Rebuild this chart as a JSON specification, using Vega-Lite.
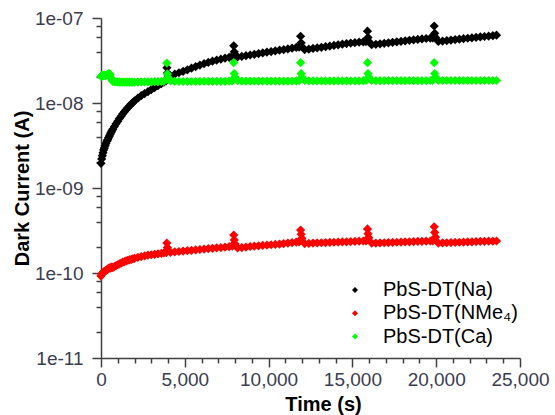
{
  "$schema": "https://vega.github.io/schema/vega-lite/v6.json",
  "width": 419,
  "height": 340,
  "autosize": {"type": "none"},
  "padding": {"left": 101, "top": 18, "right": 35, "bottom": 57},
  "background": "white",
  "view": {"stroke": null},
  "config": {"font": "Liberation Sans"},
  "data": {"values": [
    {"t":0,"na":1.95e-9,"nm":9.2e-11,"ca":2.05e-8},
    {"t":40,"na":2.2e-9,"nm":9.6e-11,"ca":2.1e-8},
    {"t":80,"na":2.4e-9,"nm":9.9e-11,"ca":2.12e-8},
    {"t":120,"na":2.6e-9,"nm":1.01e-10,"ca":2.08e-8},
    {"t":160,"na":2.8e-9,"nm":1.03e-10,"ca":2.1e-8},
    {"t":200,"na":2.95e-9,"nm":1.04e-10,"ca":2.12e-8},
    {"t":250,"na":3.15e-9,"nm":1.06e-10,"ca":2.1e-8},
    {"t":300,"na":3.35e-9,"nm":1.07e-10,"ca":2.12e-8},
    {"t":350,"na":3.55e-9,"nm":1.09e-10,"ca":2.14e-8},
    {"t":400,"na":3.7e-9,"nm":1.11e-10,"ca":2.16e-8},
    {"t":450,"na":3.9e-9,"nm":1.13e-10,"ca":2.2e-8},
    {"t":500,"na":4.1e-9,"nm":1.15e-10,"ca":2.22e-8},
    {"t":550,"na":4.3e-9,"nm":1.14e-10,"ca":2.15e-8},
    {"t":600,"na":4.5e-9,"nm":1.16e-10,"ca":1.98e-8},
    {"t":650,"na":4.7e-9,"nm":1.18e-10,"ca":1.86e-8},
    {"t":700,"na":4.9e-9,"nm":1.16e-10,"ca":1.8e-8},
    {"t":800,"na":5.3e-9,"nm":1.19e-10,"ca":1.78e-8},
    {"t":900,"na":5.7e-9,"nm":1.22e-10,"ca":1.77e-8},
    {"t":1000,"na":6.1e-9,"nm":1.25e-10,"ca":1.77e-8},
    {"t":1100,"na":6.55e-9,"nm":1.28e-10,"ca":1.76e-8},
    {"t":1200,"na":7.0e-9,"nm":1.31e-10,"ca":1.76e-8},
    {"t":1300,"na":7.45e-9,"nm":1.34e-10,"ca":1.76e-8},
    {"t":1400,"na":7.9e-9,"nm":1.36e-10,"ca":1.76e-8},
    {"t":1500,"na":8.35e-9,"nm":1.39e-10,"ca":1.76e-8},
    {"t":1600,"na":8.8e-9,"nm":1.41e-10,"ca":1.76e-8},
    {"t":1700,"na":9.25e-9,"nm":1.43e-10,"ca":1.76e-8},
    {"t":1800,"na":9.7e-9,"nm":1.45e-10,"ca":1.76e-8},
    {"t":1900,"na":1.01e-8,"nm":1.47e-10,"ca":1.76e-8},
    {"t":2000,"na":1.06e-8,"nm":1.49e-10,"ca":1.76e-8},
    {"t":2200,"na":1.14e-8,"nm":1.53e-10,"ca":1.76e-8},
    {"t":2400,"na":1.22e-8,"nm":1.56e-10,"ca":1.77e-8},
    {"t":2600,"na":1.29e-8,"nm":1.59e-10,"ca":1.77e-8},
    {"t":2800,"na":1.36e-8,"nm":1.62e-10,"ca":1.77e-8},
    {"t":3000,"na":1.44e-8,"nm":1.64e-10,"ca":1.77e-8},
    {"t":3200,"na":1.52e-8,"nm":1.66e-10,"ca":1.78e-8},
    {"t":3400,"na":1.6e-8,"nm":1.68e-10,"ca":1.78e-8},
    {"t":3600,"na":1.69e-8,"nm":1.7e-10,"ca":1.79e-8},
    {"t":3750,"na":1.76e-8,"nm":1.72e-10,"ca":1.8e-8},
    {"t":3890,"na":1.83e-8,"nm":1.74e-10,"ca":1.88e-8},
    {"t":3930,"na":2.6e-8,"nm":2.25e-10,"ca":2.95e-8},
    {"t":3960,"na":2.25e-8,"nm":2.0e-10,"ca":2.2e-8},
    {"t":4010,"na":2.08e-8,"nm":1.85e-10,"ca":2.0e-8},
    {"t":4150,"na":2.08e-8,"nm":1.75e-10,"ca":1.82e-8},
    {"t":4400,"na":2.18e-8,"nm":1.77e-10,"ca":1.8e-8},
    {"t":4650,"na":2.27e-8,"nm":1.79e-10,"ca":1.79e-8},
    {"t":4900,"na":2.36e-8,"nm":1.81e-10,"ca":1.79e-8},
    {"t":5150,"na":2.46e-8,"nm":1.83e-10,"ca":1.79e-8},
    {"t":5400,"na":2.57e-8,"nm":1.85e-10,"ca":1.79e-8},
    {"t":5650,"na":2.68e-8,"nm":1.87e-10,"ca":1.79e-8},
    {"t":5900,"na":2.79e-8,"nm":1.89e-10,"ca":1.8e-8},
    {"t":6150,"na":2.9e-8,"nm":1.91e-10,"ca":1.8e-8},
    {"t":6400,"na":3.0e-8,"nm":1.93e-10,"ca":1.8e-8},
    {"t":6650,"na":3.1e-8,"nm":1.95e-10,"ca":1.8e-8},
    {"t":6900,"na":3.19e-8,"nm":1.97e-10,"ca":1.8e-8},
    {"t":7150,"na":3.28e-8,"nm":1.99e-10,"ca":1.8e-8},
    {"t":7400,"na":3.37e-8,"nm":2.01e-10,"ca":1.8e-8},
    {"t":7650,"na":3.45e-8,"nm":2.04e-10,"ca":1.81e-8},
    {"t":7830,"na":3.52e-8,"nm":2.07e-10,"ca":1.82e-8},
    {"t":7880,"na":3.62e-8,"nm":2.15e-10,"ca":1.9e-8},
    {"t":7920,"na":4.7e-8,"nm":2.8e-10,"ca":2.98e-8},
    {"t":7950,"na":4.0e-8,"nm":2.45e-10,"ca":2.22e-8},
    {"t":8000,"na":3.65e-8,"nm":2.2e-10,"ca":2.02e-8},
    {"t":8150,"na":3.48e-8,"nm":1.97e-10,"ca":1.83e-8},
    {"t":8400,"na":3.53e-8,"nm":1.99e-10,"ca":1.81e-8},
    {"t":8650,"na":3.6e-8,"nm":2.02e-10,"ca":1.81e-8},
    {"t":8900,"na":3.67e-8,"nm":2.05e-10,"ca":1.81e-8},
    {"t":9150,"na":3.74e-8,"nm":2.07e-10,"ca":1.81e-8},
    {"t":9400,"na":3.81e-8,"nm":2.09e-10,"ca":1.81e-8},
    {"t":9650,"na":3.88e-8,"nm":2.11e-10,"ca":1.81e-8},
    {"t":9900,"na":3.96e-8,"nm":2.13e-10,"ca":1.81e-8},
    {"t":10150,"na":4.03e-8,"nm":2.15e-10,"ca":1.81e-8},
    {"t":10400,"na":4.1e-8,"nm":2.17e-10,"ca":1.81e-8},
    {"t":10650,"na":4.18e-8,"nm":2.19e-10,"ca":1.81e-8},
    {"t":10900,"na":4.25e-8,"nm":2.22e-10,"ca":1.81e-8},
    {"t":11150,"na":4.33e-8,"nm":2.25e-10,"ca":1.81e-8},
    {"t":11400,"na":4.42e-8,"nm":2.28e-10,"ca":1.81e-8},
    {"t":11650,"na":4.5e-8,"nm":2.31e-10,"ca":1.82e-8},
    {"t":11820,"na":4.55e-8,"nm":2.33e-10,"ca":1.83e-8},
    {"t":11870,"na":4.7e-8,"nm":2.42e-10,"ca":1.9e-8},
    {"t":11910,"na":6.1e-8,"nm":3.2e-10,"ca":2.98e-8},
    {"t":11940,"na":5.1e-8,"nm":2.85e-10,"ca":2.22e-8},
    {"t":11990,"na":4.6e-8,"nm":2.55e-10,"ca":2.02e-8},
    {"t":12150,"na":4.25e-8,"nm":2.22e-10,"ca":1.84e-8},
    {"t":12400,"na":4.3e-8,"nm":2.23e-10,"ca":1.82e-8},
    {"t":12650,"na":4.38e-8,"nm":2.25e-10,"ca":1.82e-8},
    {"t":12900,"na":4.45e-8,"nm":2.26e-10,"ca":1.82e-8},
    {"t":13150,"na":4.52e-8,"nm":2.27e-10,"ca":1.82e-8},
    {"t":13400,"na":4.6e-8,"nm":2.28e-10,"ca":1.82e-8},
    {"t":13650,"na":4.68e-8,"nm":2.29e-10,"ca":1.82e-8},
    {"t":13900,"na":4.76e-8,"nm":2.3e-10,"ca":1.82e-8},
    {"t":14150,"na":4.84e-8,"nm":2.31e-10,"ca":1.82e-8},
    {"t":14400,"na":4.92e-8,"nm":2.32e-10,"ca":1.82e-8},
    {"t":14650,"na":5.0e-8,"nm":2.33e-10,"ca":1.82e-8},
    {"t":14900,"na":5.07e-8,"nm":2.34e-10,"ca":1.82e-8},
    {"t":15150,"na":5.13e-8,"nm":2.35e-10,"ca":1.82e-8},
    {"t":15400,"na":5.19e-8,"nm":2.37e-10,"ca":1.82e-8},
    {"t":15650,"na":5.24e-8,"nm":2.38e-10,"ca":1.83e-8},
    {"t":15810,"na":5.28e-8,"nm":2.39e-10,"ca":1.84e-8},
    {"t":15860,"na":5.45e-8,"nm":2.48e-10,"ca":1.9e-8},
    {"t":15900,"na":7.0e-8,"nm":3.3e-10,"ca":2.98e-8},
    {"t":15930,"na":5.9e-8,"nm":2.9e-10,"ca":2.22e-8},
    {"t":15980,"na":5.3e-8,"nm":2.6e-10,"ca":2.02e-8},
    {"t":16150,"na":4.85e-8,"nm":2.25e-10,"ca":1.84e-8},
    {"t":16400,"na":4.9e-8,"nm":2.25e-10,"ca":1.83e-8},
    {"t":16650,"na":4.97e-8,"nm":2.26e-10,"ca":1.83e-8},
    {"t":16900,"na":5.04e-8,"nm":2.27e-10,"ca":1.83e-8},
    {"t":17150,"na":5.11e-8,"nm":2.28e-10,"ca":1.83e-8},
    {"t":17400,"na":5.18e-8,"nm":2.29e-10,"ca":1.83e-8},
    {"t":17650,"na":5.25e-8,"nm":2.3e-10,"ca":1.83e-8},
    {"t":17900,"na":5.32e-8,"nm":2.31e-10,"ca":1.83e-8},
    {"t":18150,"na":5.39e-8,"nm":2.32e-10,"ca":1.83e-8},
    {"t":18400,"na":5.46e-8,"nm":2.33e-10,"ca":1.83e-8},
    {"t":18650,"na":5.53e-8,"nm":2.34e-10,"ca":1.83e-8},
    {"t":18900,"na":5.6e-8,"nm":2.35e-10,"ca":1.83e-8},
    {"t":19150,"na":5.67e-8,"nm":2.36e-10,"ca":1.83e-8},
    {"t":19400,"na":5.74e-8,"nm":2.37e-10,"ca":1.83e-8},
    {"t":19650,"na":5.8e-8,"nm":2.38e-10,"ca":1.84e-8},
    {"t":19790,"na":5.84e-8,"nm":2.39e-10,"ca":1.85e-8},
    {"t":19840,"na":6.0e-8,"nm":2.48e-10,"ca":1.9e-8},
    {"t":19880,"na":8.05e-8,"nm":3.5e-10,"ca":2.98e-8},
    {"t":19910,"na":6.6e-8,"nm":3.0e-10,"ca":2.22e-8},
    {"t":19960,"na":5.9e-8,"nm":2.65e-10,"ca":2.02e-8},
    {"t":20130,"na":5.3e-8,"nm":2.25e-10,"ca":1.85e-8},
    {"t":20380,"na":5.35e-8,"nm":2.26e-10,"ca":1.84e-8},
    {"t":20630,"na":5.42e-8,"nm":2.27e-10,"ca":1.84e-8},
    {"t":20880,"na":5.5e-8,"nm":2.28e-10,"ca":1.84e-8},
    {"t":21130,"na":5.57e-8,"nm":2.29e-10,"ca":1.84e-8},
    {"t":21380,"na":5.64e-8,"nm":2.3e-10,"ca":1.84e-8},
    {"t":21630,"na":5.71e-8,"nm":2.31e-10,"ca":1.84e-8},
    {"t":21880,"na":5.78e-8,"nm":2.32e-10,"ca":1.84e-8},
    {"t":22130,"na":5.85e-8,"nm":2.33e-10,"ca":1.84e-8},
    {"t":22380,"na":5.92e-8,"nm":2.34e-10,"ca":1.84e-8},
    {"t":22630,"na":5.99e-8,"nm":2.35e-10,"ca":1.84e-8},
    {"t":22880,"na":6.06e-8,"nm":2.36e-10,"ca":1.84e-8},
    {"t":23130,"na":6.13e-8,"nm":2.37e-10,"ca":1.84e-8},
    {"t":23380,"na":6.2e-8,"nm":2.37e-10,"ca":1.84e-8},
    {"t":23600,"na":6.27e-8,"nm":2.38e-10,"ca":1.84e-8}
  ]},
  "transform": [{"fold": ["na", "nm", "ca"], "as": ["s", "v"]}],
  "mark": {"type": "point", "shape": "diamond", "filled": true, "size": 85, "opacity": 1, "strokeWidth": 0},
  "encoding": {
    "x": {
      "field": "t", "type": "quantitative",
      "scale": {"domain": [0, 25000], "nice": false, "zero": false},
      "axis": {
        "title": "Time (s)",
        "values": [0,1000,2000,3000,4000,5000,6000,7000,8000,9000,10000,11000,12000,13000,14000,15000,16000,17000,18000,19000,20000,21000,22000,23000,24000,25000],
        "labelExpr": "datum.value % 5000 == 0 ? format(datum.value, ',') : ''",
        "tickSize": {"condition": {"test": "datum.value % 5000 == 0", "value": 9}, "value": 5},
        "labelOverlap": false, "labelFlush": false, "grid": false,
        "domainColor": "#404040", "domainWidth": 1.5, "tickColor": "#404040", "tickWidth": 1.5,
        "labelColor": "#3c3c50", "labelFontSize": 19, "labelPadding": 3,
        "titleFontSize": 20, "titleFontWeight": "bold", "titleColor": "#000000",
        "titleX": 222, "titleY": 52, "titleBaseline": "alphabetic", "titleAlign": "center"
      }
    },
    "y": {
      "field": "v", "type": "quantitative",
      "scale": {"type": "log", "domain": [1e-11, 1e-7], "nice": false},
      "axis": {
        "title": "Dark Current (A)",
        "values": [1e-11,2e-11,4e-11,6e-11,8e-11,1e-10,2e-10,4e-10,6e-10,8e-10,1e-9,2e-9,4e-9,6e-9,8e-9,1e-8,2e-8,4e-8,6e-8,8e-8,1e-7],
        "labelExpr": "abs(log(datum.value)/LN10 - round(log(datum.value)/LN10)) < 0.001 ? '1e-' + pad(toString(round(-log(datum.value)/LN10)), 2, '0', 'left') : ''",
        "tickSize": {"condition": {"test": "abs(log(datum.value)/LN10 - round(log(datum.value)/LN10)) < 0.001", "value": 9}, "value": 5},
        "labelOverlap": false, "labelFlush": false, "grid": false,
        "domainColor": "#404040", "domainWidth": 1.5, "tickColor": "#404040", "tickWidth": 1.5,
        "labelColor": "#3c3c50", "labelFontSize": 19, "labelPadding": 9,
        "titleFontSize": 20, "titleFontWeight": "bold", "titleColor": "#000000",
        "titleX": -73, "titleY": 170, "titleBaseline": "alphabetic", "titleAlign": "center", "titleAngle": -90
      }
    },
    "color": {
      "field": "s", "type": "nominal",
      "scale": {"domain": ["na", "nm", "ca"], "range": ["#000000", "#ff0000", "#00ff00"]},
      "legend": {
        "title": null, "orient": "none", "legendX": 244, "legendY": 262,
        "padding": 0, "symbolType": "diamond", "symbolSize": 36, "symbolStrokeWidth": 0,
        "labelFontSize": 20, "labelColor": "#000000", "labelOffset": 18, "rowPadding": 3.3,
        "labelExpr": "datum.value == 'na' ? 'PbS-DT(Na)' : datum.value == 'nm' ? 'PbS-DT(NMe₄)' : 'PbS-DT(Ca)'"
      }
    },
    "order": {"field": "s", "sort": "descending"}
  }
}
